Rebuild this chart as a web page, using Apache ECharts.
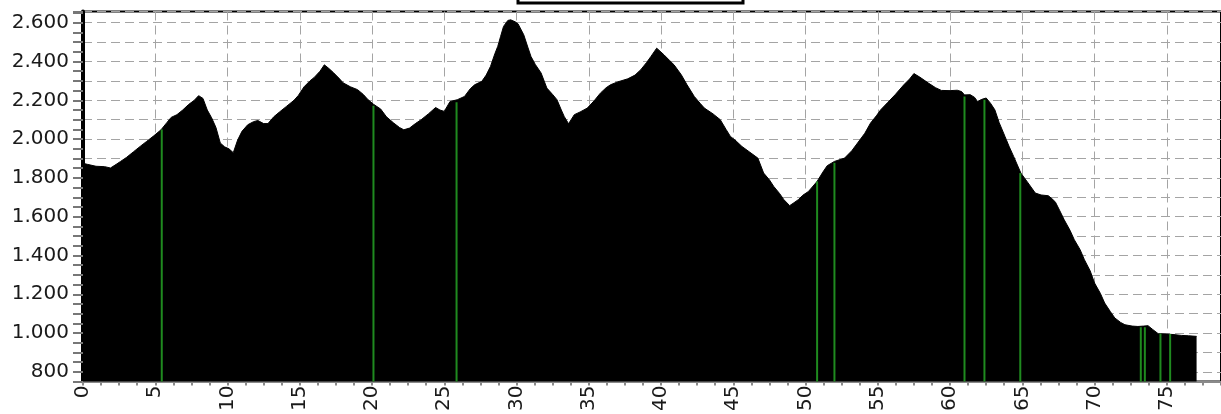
<!DOCTYPE html>
<html>
<head>
<meta charset="utf-8">
<script src="https://cdn.jsdelivr.net/npm/echarts@6/dist/echarts.min.js"></script>
<style>html,body{margin:0;padding:0;background:#fff;}#c{width:1221px;height:414px;}</style>
</head>
<body>
<div id="c"></div>
<script>
// Elevation profile: distance (km) and elevation (m)
const distKm = [0,0.3,0.9,1.5,1.9,2.3,2.6,3.0,3.5,4.0,4.4,4.9,5.4,5.8,6.1,6.5,6.9,7.3,7.7,8.0,8.3,8.6,8.9,9.2,9.5,9.8,10.1,10.4,10.7,11.0,11.4,11.8,12.1,12.5,12.8,13.2,13.6,14.1,14.6,14.9,15.3,15.7,16.0,16.4,16.7,17.0,17.3,17.7,18.0,18.5,19.0,19.4,19.7,20.1,20.6,21.0,21.5,21.9,22.2,22.6,23.0,23.4,23.9,24.4,24.7,25.0,25.4,25.9,26.4,26.8,27.1,27.6,27.9,28.2,28.5,28.7,28.9,29.1,29.4,29.6,29.9,30.1,30.5,30.8,31.0,31.3,31.7,32.1,32.5,32.8,33.1,33.3,33.6,34.0,34.4,34.9,35.4,35.8,36.2,36.5,37.0,37.7,38.2,38.6,39.0,39.3,39.7,40.2,40.6,40.9,41.4,41.8,42.3,42.7,43.0,43.6,44.1,44.5,44.8,45.2,45.6,46.1,46.7,47.1,47.5,47.8,48.2,48.5,48.9,49.2,49.5,49.8,50.2,50.8,51.2,51.5,52.0,52.7,53.2,53.6,54.1,54.5,54.9,55.2,55.7,56.2,56.8,57.2,57.5,57.9,58.5,59.0,59.4,60.0,60.5,60.8,61.0,61.4,61.7,61.9,62.2,62.5,62.8,63.1,63.4,63.8,64.1,64.4,64.9,65.4,65.9,66.3,66.8,67.1,67.3,67.6,67.9,68.3,68.6,69.0,69.3,69.7,70.0,70.4,70.7,71.1,71.4,71.8,72.1,72.6,73.0,73.4,73.7,74.0,74.4,75.0,75.5,76.0,76.5,77.06];
const elevM = [1875,1870,1860,1858,1851,1870,1885,1905,1935,1965,1988,2017,2048,2085,2112,2126,2150,2178,2200,2224,2210,2150,2110,2060,1980,1960,1950,1930,1995,2040,2074,2090,2096,2080,2080,2115,2140,2170,2200,2225,2270,2300,2318,2350,2383,2365,2345,2315,2290,2270,2255,2230,2205,2180,2155,2115,2083,2060,2048,2057,2080,2100,2130,2163,2150,2143,2194,2203,2220,2260,2280,2298,2330,2375,2440,2478,2530,2581,2612,2615,2605,2595,2538,2470,2426,2385,2341,2263,2230,2203,2150,2117,2079,2126,2140,2160,2200,2237,2265,2280,2295,2311,2330,2358,2395,2426,2469,2435,2405,2383,2332,2280,2220,2185,2160,2130,2100,2050,2014,1990,1962,1935,1902,1825,1790,1756,1720,1688,1657,1672,1688,1710,1730,1782,1830,1863,1885,1902,1940,1980,2030,2083,2120,2151,2190,2229,2280,2310,2338,2320,2289,2265,2251,2250,2252,2245,2228,2229,2215,2194,2205,2212,2185,2151,2085,2014,1960,1911,1825,1774,1722,1712,1708,1690,1674,1630,1584,1530,1481,1430,1378,1320,1258,1205,1155,1110,1078,1055,1043,1036,1034,1036,1038,1020,997,995,992,988,986,983];
// Green marker lines: position (km) and top elevation (m)
const markerKm = [5.45,20.1,25.85,50.8,52.0,61.0,62.38,64.86,73.2,73.48,74.56,75.23];
const markerElev = [2050,2172,2190,1782,1878,2220,2203,1825,1030,1030,997,995];
// Axis settings
const xMin = 0, xMax = 78.75, xStep = 1.25, xLabelEvery = 5;
const yMin = 750, yMax = 2658, yStep = 50, yLabelEvery = 200;

const profile = distKm.map((d, i) => [d, elevM[i]]);
const markers = markerKm.map((d, i) => [d, markerElev[i]]);
const clear = 'rgba(0,0,0,0)';
const gridCol = '#a4a4a4';

const chart = echarts.init(document.getElementById('c'));
chart.setOption({
  backgroundColor: '#fff',
  animation: false,
  grid: { left: 83, right: 0, top: 11.5, bottom: 32, show: true, borderColor: '#000', borderWidth: 2, backgroundColor: 'transparent' },
  graphic: [{
    type: 'rect', shape: { x: 518, y: -20, width: 225, height: 23 },
    style: { fill: '#fff', stroke: '#000', lineWidth: 3 }, z: 100
  }],
  xAxis: {
    type: 'value', min: xMin, max: xMax, interval: xStep,
    axisLine: { show: true, onZero: false, lineStyle: { color: '#8a8a8a', width: 2 } },
    axisTick: { show: true, length: 4, lineStyle: { color: '#8a8a8a', width: 2 } },
    axisLabel: {
      rotate: 90, margin: 4, fontFamily: 'DejaVu Sans', fontSize: 20, color: '#1a1a1a',
      formatter: v => (Math.abs(v / xLabelEvery - Math.round(v / xLabelEvery)) < 1e-6 && v < xMax) ? String(Math.round(v)) : ''
    },
    splitLine: { show: true, lineStyle: { color: [gridCol, clear, clear, clear], type: [9, 5], width: 1 } }
  },
  yAxis: {
    type: 'value', min: yMin, max: yMax, interval: yStep,
    axisLine: { show: true, lineStyle: { color: '#000', width: 4 } },
    axisTick: { show: true, length: 10, lineStyle: { color: '#777', width: 2 } },
    axisLabel: {
      margin: 14, fontFamily: 'DejaVu Sans', fontSize: 20, color: '#1a1a1a',
      formatter: v => (v % yLabelEvery === 0) ? (v >= 1000 ? Math.floor(v / 1000) + '.' + String(v % 1000).padStart(3, '0') : String(v)) : ''
    },
    splitLine: { show: true, lineStyle: { color: [clear, gridCol], type: [9, 5], width: 1 } }
  },
  series: [
    {
      type: 'line', data: profile, symbol: 'none', smooth: false,
      lineStyle: { color: '#000', width: 1 },
      areaStyle: { color: '#000', opacity: 1, origin: 'start' },
      z: 2
    },
    {
      type: 'bar', data: markers, barWidth: 2,
      itemStyle: { color: '#1f8a1f' }, z: 3
    }
  ]
});
</script>
</body>
</html>
